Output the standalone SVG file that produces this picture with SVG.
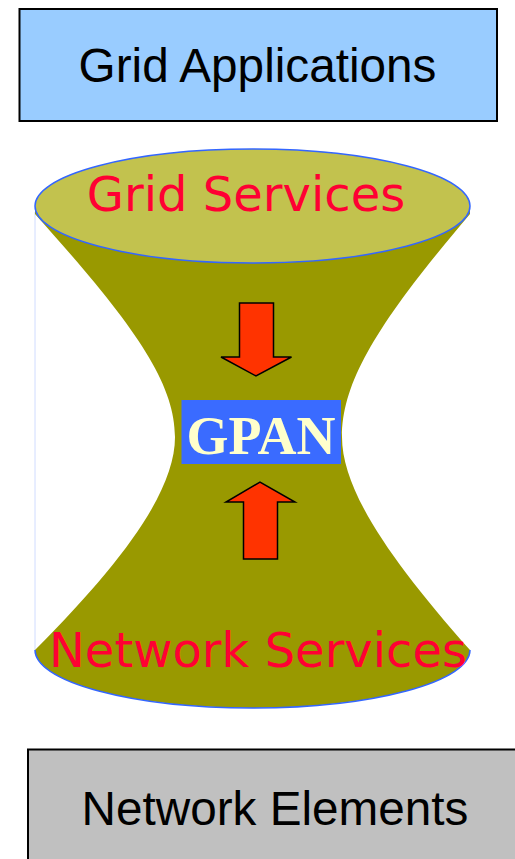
<svg xmlns="http://www.w3.org/2000/svg" width="515" height="859" viewBox="0 0 515 859">
<style>
.box{stroke:#000;stroke-width:2}
.lbl{font-family:"Liberation Sans",Arial,sans-serif;font-size:47.7px;fill:#000;text-anchor:middle}
.svc{font-family:"DejaVu Sans",Verdana,sans-serif;font-size:48px;fill:#FF0033;text-anchor:middle}
.arrow{fill:#FF3300;stroke:#000;stroke-width:1.5;stroke-linejoin:miter}
</style>
<rect width="515" height="859" fill="#fff"/>
<g id="grid-applications">
<rect class="box" x="19.5" y="9" width="477.5" height="112" fill="#99CCFF"/>
<text class="lbl" x="257.5" y="82">Grid Applications</text>
</g>
<g id="hourglass">
<line x1="35" y1="212" x2="35" y2="650" stroke="#D0DCFF" stroke-width="1"/>
<path d="M35,206 L35,214 C130,320 175,380 175,437 C175,490 125,560 35,650 A217.5,58 0 0 0 470,650 C390,560 342,490 342,437 C342,380 380,320 470,214 L470,206 Z" fill="#999900"/>
<path d="M35,650 A217.5,58 0 0 0 470,650" fill="none" stroke="#3366FF" stroke-width="1.5"/>
</g>
<g id="grid-services">
<ellipse cx="252.5" cy="206" rx="217.5" ry="57" fill="#C2C24E" stroke="#3366FF" stroke-width="1.5"/>
<text class="svc" x="246" y="211">Grid Services</text>
</g>
<g id="network-services">
<text class="svc" x="258" y="667">Network Services</text>
</g>
<g id="connectors">
<path class="arrow" d="M239.5,303 L273.5,303 L273.5,357 L291.5,357 L256,376 L221,357 L239.5,357 Z"/>
<path class="arrow" d="M243.5,559 L277.5,559 L277.5,502 L295,502 L260,482 L226,502 L243.5,502 Z"/>
</g>
<g id="gpan">
<rect x="181.5" y="400" width="159.5" height="64" fill="#3A6BFF"/>
<text x="261" y="454" font-family="'Liberation Serif','Times New Roman',serif" font-weight="bold" font-size="54" fill="#FFFFCC" text-anchor="middle">GPAN</text>
</g>
<g id="network-elements">
<rect class="box" x="28" y="749.5" width="500" height="120" fill="#C0C0C0"/>
<text class="lbl" x="275" y="825">Network Elements</text>
</g>
</svg>
